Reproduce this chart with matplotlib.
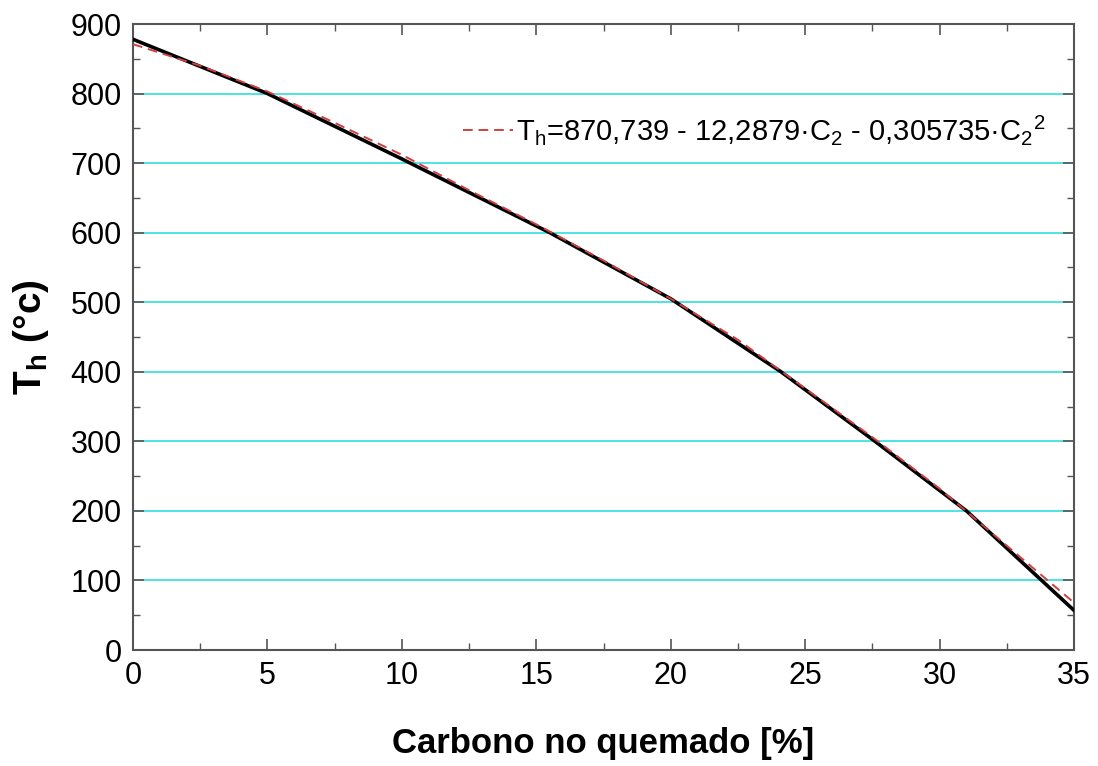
import matplotlib
matplotlib.use('Agg')
import matplotlib.pyplot as plt
from matplotlib.ticker import MultipleLocator

plt.rcParams['font.family'] = ['Liberation Sans', 'DejaVu Sans']
plt.rcParams['mathtext.fontset'] = 'custom'
plt.rcParams['mathtext.rm'] = 'Liberation Sans'
plt.rcParams['mathtext.bf'] = 'Liberation Sans:bold'
plt.rcParams['mathtext.default'] = 'regular'

# black curve
carbono = [0, 5, 10, 15.5, 20, 24.1, 27.6, 31, 35]
temp = [878, 800, 706, 600, 505, 400, 300, 200, 57]

# red dashed fit
carbono_fit = [0, 2.5, 5, 7.5, 10, 12.5, 15, 17.5, 20, 22.5, 25, 27.5, 30, 32.5, 35]
temp_fit = [871, 840, 803, 758, 712, 661, 612, 560, 505, 446, 376, 306, 232, 150, 68]

fit_label = ('T$_{h}$=870,739 - 12,2879·C$_{2}$ - 0,305735·C$_{2}$$^{2}$')

fig = plt.figure(figsize=(10.98, 7.66), dpi=100)
ax = fig.add_axes([133 / 1098, 1 - 650 / 766, (1074 - 133) / 1098, (650 - 24) / 766])

# cyan gridlines
for y in range(100, 900, 100):
    ax.axhline(y, color='#40e0e0', lw=1.3, zorder=1)

ax.plot(carbono, temp, color='black', lw=2.6, zorder=3)
ax.plot(carbono_fit, temp_fit, color='#d04040', lw=1.4, ls=(0, (5, 3)),
        zorder=4, label=fit_label)

ax.set_xlim(0, 35)
ax.set_ylim(0, 900)
ax.xaxis.set_major_locator(MultipleLocator(5))
ax.xaxis.set_minor_locator(MultipleLocator(2.5))
ax.yaxis.set_major_locator(MultipleLocator(100))
ax.yaxis.set_minor_locator(MultipleLocator(50))
ax.tick_params(which='both', direction='in', top=True, right=True,
               color='#555555', labelsize=22)
ax.tick_params(which='major', length=8, width=1.2, pad=8)
ax.tick_params(which='minor', length=5, width=1.0)
for s in ax.spines.values():
    s.set_color('#555555')
    s.set_linewidth(1.5)

ax.set_xlabel('Carbono no quemado [%]', fontsize=25, fontweight='bold', labelpad=26)
ax.set_ylabel(r'$\mathbf{T_h}$ (°c)', fontsize=28, fontweight='bold', labelpad=14)

leg = ax.legend(loc='upper right', bbox_to_anchor=(0.997, 0.9), frameon=False,
                fontsize=21, handlelength=1.7, handletextpad=0.1)

fig.savefig('out.png', dpi=100)
